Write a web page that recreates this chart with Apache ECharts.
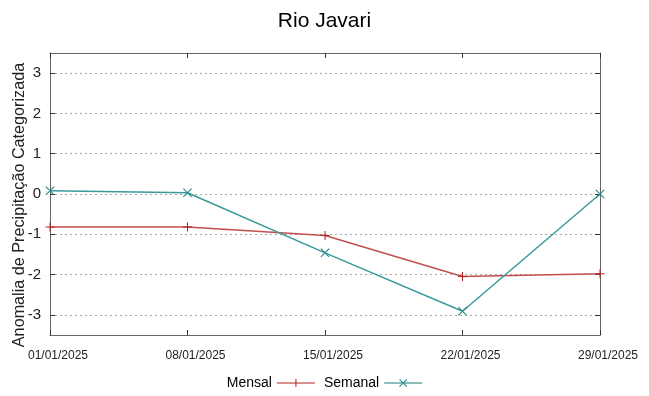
<!DOCTYPE html>
<html><head><meta charset="utf-8">
<script src="https://cdn.jsdelivr.net/npm/echarts@6/dist/echarts.min.js"></script>
<style>html,body{margin:0;padding:0;background:#fff}#c{width:649px;height:396px}</style>
</head><body><div id="c"></div>
<script>
const categories = ['01/01/2025','08/01/2025','15/01/2025','22/01/2025','29/01/2025'];
const mensal = [-0.82, -0.82, -1.03, -2.05, -1.98];
const semanal = [0.08, 0.03, -1.46, -2.91, 0.0];
const yTicks = [-3,-2,-1,0,1,2,3];
const yTitle = 'Anomalia de Precipitação Categorizada';

const plusPath = 'path://M4,0h1v9h-1z M0,4h9v1h-9z';
const crossPath = 'path://M0,0.7L0.7,0L9,8.3L8.3,9Z M9,0.7L8.3,0L0,8.3L0.7,9Z';
const legPlus = 'path://M0,4.5h38v1h-38z M18.5,1h1v8h-1z';
const legCross = 'path://M0,4.5h38v1h-38z M15,1.7L15.7,1L23,8.3L22.3,9Z M23,1.7L22.3,1L15,8.3L15.7,9Z';
const FN = 'Liberation Sans';

const chart = echarts.init(document.getElementById('c'));
const frame = {show:true, onZero:false, lineStyle:{color:'#666', width:1}};
const tickIn = {show:true, inside:true, length:5, lineStyle:{color:'#333'}};
chart.setOption({
  animation:false,
  title:{text:'Rio Javari', left:'center', top:6, textStyle:{fontFamily:FN, fontSize:21, fontWeight:'normal', color:'#000'}},
  grid:{left:50, right:49, top:53, bottom:61, outerBoundsMode:'none', containLabel:false},
  graphic:[{type:'text', x:20, y:205, rotation:Math.PI/2,
    style:{text:yTitle, font:'16.2px "Liberation Sans"', fill:'#222', align:'center', verticalAlign:'middle'}}],
  legend:{bottom:1, left:'center', align:'right', itemWidth:38, itemHeight:10, itemGap:9,
    textStyle:{fontFamily:FN, fontSize:14, color:'#000'},
    data:[{name:'Mensal', icon:legPlus},{name:'Semanal', icon:legCross}]},
  xAxis:[{type:'category', data:categories, boundaryGap:false,
    axisLine:frame, axisTick:tickIn,
    axisLabel:{fontFamily:FN, fontSize:12, color:'#222', margin:15, padding:[0,0,0,16]},
    splitLine:{show:false}},
   {type:'category', data:categories, boundaryGap:false, position:'top',
    axisLine:frame, axisTick:tickIn, axisLabel:{show:false}, splitLine:{show:false}}],
  yAxis:[{type:'value', min:-3.5, max:3.5,
    axisLine:frame, axisTick:Object.assign({customValues:yTicks}, tickIn),
    axisLabel:{customValues:yTicks, fontFamily:FN, fontSize:15, color:'#222', margin:9},
    splitLine:{show:true, lineStyle:{color:'#aaa', type:[2,3], width:1}}},
   {type:'value', min:-3.5, max:3.5, position:'right',
    axisLine:frame, axisTick:Object.assign({customValues:yTicks}, tickIn),
    axisLabel:{show:false}, splitLine:{show:false}}],
  series:[
    {name:'Mensal', type:'line', data:mensal, color:'#b22222', symbol:plusPath, symbolSize:9,
      lineStyle:{width:1.5, color:'#c05050'}, itemStyle:{color:'#b22222'}},
    {name:'Semanal', type:'line', data:semanal, color:'#1a7f7f', symbol:crossPath, symbolSize:9,
      lineStyle:{width:1.5, color:'#3a9a9a'}, itemStyle:{color:'#1a7f7f'}}
  ]
});
</script></body></html>
